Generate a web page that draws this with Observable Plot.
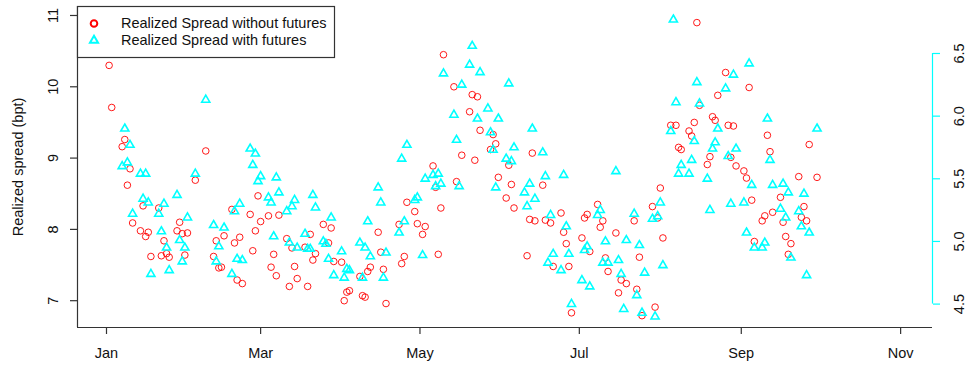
<!DOCTYPE html>
<html>
<head>
<meta charset="utf-8">
<script src="https://cdn.jsdelivr.net/npm/d3@7"></script>
<script src="https://cdn.jsdelivr.net/npm/@observablehq/plot@0.6"></script>
<style>
  html, body { margin: 0; padding: 0; background: #fff; }
  #wrap { position: relative; width: 970px; height: 369px; font-family: "Liberation Sans", Arial, Helvetica, sans-serif; }
  #legend { position: absolute; left: 0; top: 0; pointer-events: none; }
</style>
</head>
<body>
<div id="wrap"></div>
<script>
// ---- data (year 2013, business days) ----
const year = 2013;
const seriesNames = ["Realized Spread without futures", "Realized Spread with futures"];
const seriesColors = ["#ff0000", "#00ffff"];

// Realized spread without futures (left axis, bpt)
const spreadWithout = [
["01-02",10.30],["01-03",9.71],["01-07",9.16],["01-08",9.26],["01-09",8.62],["01-10",8.85],["01-11",8.09],
["01-14",7.98],["01-15",8.33],["01-16",7.90],["01-17",7.96],["01-18",7.62],["01-21",8.30],["01-22",7.63],
["01-23",7.84],["01-24",7.66],["01-25",7.61],["01-28",7.98],["01-29",8.10],["01-30",7.94],["01-31",7.64],
["02-01",7.95],["02-04",8.69],["02-08",9.10],["02-11",7.62],["02-12",7.84],["02-13",7.46],["02-14",7.47],
["02-15",7.91],["02-18",8.28],["02-19",7.81],["02-20",7.29],["02-21",7.89],["02-22",7.24],["02-25",8.21],
["02-26",7.70],["02-27",7.98],["02-28",8.47],["03-01",8.11],["03-04",8.19],["03-05",7.47],["03-06",7.65],
["03-07",7.35],["03-08",8.20],["03-11",7.87],["03-12",7.20],["03-13",7.74],["03-14",7.48],["03-15",7.31],
["03-18",7.75],["03-19",7.20],["03-20",7.93],["03-21",7.57],["03-22",7.66],["03-25",8.07],["03-27",7.81],
["03-28",8.02],["03-29",7.55],["04-01",7.54],["04-02",7.00],["04-03",7.12],["04-04",7.14],["04-08",7.34],
["04-09",7.07],["04-10",7.05],["04-11",7.41],["04-12",7.47],["04-15",7.96],["04-16",7.68],["04-17",7.44],
["04-18",6.96],["04-23",8.07],["04-24",7.52],["04-25",7.62],["04-26",8.38],["04-29",8.25],["04-30",8.08],
["05-02",7.93],["05-03",8.04],["05-06",8.89],["05-07",8.59],["05-08",7.65],["05-09",8.30],["05-10",10.45],
["05-14",10.00],["05-15",8.67],["05-17",9.04],["05-20",9.65],["05-21",9.89],["05-22",8.97],["05-23",9.86],
["05-24",9.39],["05-28",9.12],["05-29",9.33],["05-30",9.20],["05-31",8.73],["06-03",8.44],["06-04",8.90],
["06-05",8.63],["06-06",8.30],["06-11",7.63],["06-12",8.14],["06-13",9.07],["06-14",8.12],["06-17",8.62],
["06-18",8.13],["06-20",8.09],["06-21",7.48],["06-24",8.23],["06-25",7.96],["06-26",7.80],["06-27",7.48],
["06-28",6.83],["07-02",7.88],["07-03",8.16],["07-04",8.21],["07-05",7.69],["07-08",8.35],["07-09",8.03],
["07-10",8.12],["07-11",7.60],["07-12",7.41],["07-15",7.95],["07-16",7.11],["07-17",7.29],["07-19",7.24],
["07-22",8.12],["07-23",7.16],["07-24",7.61],["07-25",6.79],["07-29",8.32],["07-30",6.91],["07-31",8.16],
["08-01",8.58],["08-02",7.88],["08-05",9.46],["08-07",9.46],["08-08",9.15],["08-09",9.12],["08-12",9.38],
["08-13",9.31],["08-14",9.50],["08-15",10.90],["08-16",9.74],["08-19",8.91],["08-20",9.02],["08-21",9.58],
["08-22",9.53],["08-23",9.88],["08-26",10.20],["08-27",9.46],["08-28",9.01],["08-29",9.45],["08-30",8.89],
["09-02",8.82],["09-03",8.72],["09-04",9.99],["09-05",8.41],["09-06",7.83],["09-09",8.12],["09-10",8.19],
["09-11",9.32],["09-12",9.09],["09-13",8.24],["09-16",8.45],["09-17",8.10],["09-18",7.90],["09-19",7.65],
["09-20",7.80],["09-23",8.74],["09-24",8.17],["09-25",8.32],["09-26",8.12],["09-27",9.19],["09-30",8.73]
];

// Realized spread with futures (right axis)
const spreadWith = [
["01-07",5.60],["01-08",5.90],["01-09",5.63],["01-10",5.77],["01-11",5.22],["01-14",5.54],["01-15",5.34],
["01-16",5.54],["01-17",5.31],["01-18",4.74],["01-21",5.22],["01-22",5.08],["01-23",5.30],["01-24",4.95],
["01-25",4.77],["01-28",5.37],["01-29",5.01],["01-30",4.84],["01-31",4.95],["02-01",5.19],["02-04",5.54],
["02-08",6.13],["02-11",5.13],["02-12",4.84],["02-13",4.96],["02-15",5.11],["02-18",4.74],["02-19",5.24],
["02-20",4.86],["02-21",5.30],["02-22",4.85],["02-25",5.74],["02-26",5.61],["02-27",5.70],["02-28",5.48],
["03-01",5.52],["03-04",5.35],["03-05",5.31],["03-06",5.04],["03-07",5.51],["03-08",5.39],["03-11",5.24],
["03-12",4.99],["03-13",5.28],["03-14",5.33],["03-15",4.95],["03-18",5.06],["03-19",4.94],["03-20",4.94],
["03-21",5.37],["03-22",5.27],["03-25",5.00],["03-26",4.98],["03-27",4.86],["03-28",5.19],["03-29",4.73],
["04-01",4.92],["04-02",4.71],["04-03",4.78],["04-04",4.77],["04-08",4.99],["04-09",4.71],["04-10",4.95],
["04-11",5.16],["04-12",4.88],["04-15",5.43],["04-16",5.31],["04-17",4.71],["04-18",4.91],["04-23",5.07],
["04-24",5.66],["04-25",5.16],["04-26",5.77],["04-29",5.33],["04-30",5.35],["05-02",4.89],["05-03",5.50],
["05-06",5.53],["05-07",5.44],["05-08",5.54],["05-09",5.46],["05-10",6.34],["05-14",6.01],["05-15",5.81],
["05-16",5.44],["05-17",6.25],["05-20",6.41],["05-21",6.56],["05-23",5.98],["05-24",6.35],["05-27",6.06],
["05-28",5.87],["05-29",5.73],["05-30",5.43],["05-31",5.98],["06-03",5.66],["06-04",6.26],["06-05",5.64],
["06-06",5.75],["06-10",5.39],["06-11",5.28],["06-12",5.46],["06-13",5.90],["06-14",5.34],["06-17",5.71],
["06-18",5.52],["06-19",4.83],["06-20",5.21],["06-21",4.90],["06-24",4.77],["06-25",5.53],["06-26",5.12],
["06-27",4.90],["06-28",4.50],["07-02",4.69],["07-03",4.93],["07-04",4.96],["07-05",4.64],["07-08",5.21],
["07-09",5.25],["07-10",4.83],["07-11",5.00],["07-12",4.83],["07-15",5.56],["07-16",4.85],["07-17",4.74],
["07-18",4.46],["07-19",5.01],["07-22",5.22],["07-23",4.57],["07-24",4.97],["07-25",4.43],["07-26",4.75],
["07-29",5.18],["07-30",4.40],["07-31",5.20],["08-01",5.31],["08-02",4.81],["08-05",5.88],["08-06",6.77],
["08-07",6.11],["08-08",5.54],["08-09",5.61],["08-12",5.54],["08-13",5.65],["08-14",5.80],["08-15",6.27],
["08-16",6.10],["08-19",5.50],["08-20",5.25],["08-21",5.74],["08-22",5.79],["08-23",5.90],["08-26",6.22],
["08-27",5.68],["08-28",5.30],["08-29",6.33],["08-30",5.74],["09-02",5.31],["09-03",5.07],["09-04",6.42],
["09-05",5.45],["09-06",4.95],["09-09",4.95],["09-10",4.99],["09-11",5.98],["09-12",5.65],["09-13",5.45],
["09-16",5.26],["09-17",5.46],["09-18",5.19],["09-19",5.39],["09-20",4.87],["09-23",5.24],["09-24",5.12],
["09-25",5.38],["09-26",4.73],["09-27",5.07],["09-30",5.90]
];

const monthTicks = ["01-01", "03-01", "05-01", "07-01", "09-01", "11-01"];
const leftTicks = [7, 8, 9, 10, 11];
const rightTicks = [4.5, 5.0, 5.5, 6.0, 6.5];
const yTitle = "Realized spread (bpt)";

// ---- build ----
const toDate = md => new Date(`${year}-${md}T00:00:00Z`);
const DAY = 864e5;
const jan1 = Date.UTC(year, 0, 1);
const xDomain = [new Date(jan1 - 11.1 * DAY), new Date(jan1 + 316.2 * DAY)];
const yDomain = [6.624, 11.126];
// right (secondary) axis mapped onto left-axis units
const toLeft = v => 10.467 + 1.7574 * (v - 6.5);
const toRight = u => (u - 10.467) / 1.7574 + 6.5;

const red = spreadWithout.map(([d, v]) => ({date: toDate(d), value: v}));
const cyan = spreadWith.map(([d, v]) => ({date: toDate(d), value: v}));

const font = '"Liberation Sans", Arial, Helvetica, sans-serif';
const axisColor = "#333";

const chart = Plot.plot({
  width: 970,
  height: 369,
  marginLeft: 77,
  marginRight: 38,
  marginTop: 6,
  marginBottom: 42,
  style: {fontFamily: font, fontSize: "14.5px", color: "#111", background: "#fff", overflow: "visible"},
  x: {type: "utc", domain: xDomain},
  y: {domain: yDomain},
  marks: [
    Plot.ruleX([xDomain[0]], {stroke: axisColor, strokeWidth: 1.2}),
    Plot.ruleY([yDomain[0]], {stroke: axisColor, strokeWidth: 1.2}),
    Plot.axisY(leftTicks, {anchor: "left", tickSize: 7, tickPadding: 13, tickRotate: -90, label: null,
      stroke: axisColor, strokeWidth: 1.2, tickFormat: d => String(d)}),
    Plot.ruleX([xDomain[1]], {y1: toLeft(rightTicks[0]), y2: toLeft(rightTicks[rightTicks.length - 1]), stroke: seriesColors[1], strokeWidth: 1.2}),
    Plot.axisY(rightTicks.map(toLeft), {anchor: "right", tickSize: 7, tickPadding: 24, tickRotate: -90, label: null,
      stroke: seriesColors[1], strokeWidth: 1.2, tickFormat: u => toRight(u).toFixed(1)}),
    Plot.axisX(monthTicks.map(toDate), {anchor: "bottom", tickSize: 7, tickPadding: 13, tickFormat: "%b", label: null, stroke: axisColor, strokeWidth: 1.2}),
    Plot.text([yTitle], {frameAnchor: "left", dx: -55, rotate: -90, textAnchor: "middle", lineAnchor: "bottom", fill: "#111"}),
    Plot.dot(red, {x: "date", y: "value", symbol: "circle", r: 3.3, stroke: seriesColors[0], strokeWidth: 0.9}),
    Plot.dot(cyan, {x: "date", y: d => toLeft(d.value), symbol: "triangle", r: 3.0, stroke: seriesColors[1], strokeWidth: 1.6})
  ]
});

const wrap = document.getElementById("wrap");
wrap.appendChild(chart);

// ---- legend (top-left, R style box) ----
const lg = d3.select(wrap).append("svg")
  .attr("id", "legend").attr("width", 970).attr("height", 369)
  .style("font-family", font).style("font-size", "14.5px");
lg.append("rect").attr("x", 77.5).attr("y", 6.5).attr("width", 257).attr("height", 51)
  .attr("fill", "#fff").attr("stroke", axisColor).attr("stroke-width", 1.2);
lg.append("circle").attr("cx", 94).attr("cy", 23.5).attr("r", 3.3)
  .attr("fill", "none").attr("stroke", seriesColors[0]).attr("stroke-width", 2);
lg.append("path").attr("transform", "translate(94,40.5)")
  .attr("d", d3.symbol(d3.symbolTriangle, Math.PI * 9)())
  .attr("fill", "none").attr("stroke", seriesColors[1]).attr("stroke-width", 2);
seriesNames.forEach((name, i) => {
  lg.append("text").attr("x", 121).attr("y", 28.4 + i * 16.6).attr("fill", "#111").text(name);
});
</script>
</body>
</html>
